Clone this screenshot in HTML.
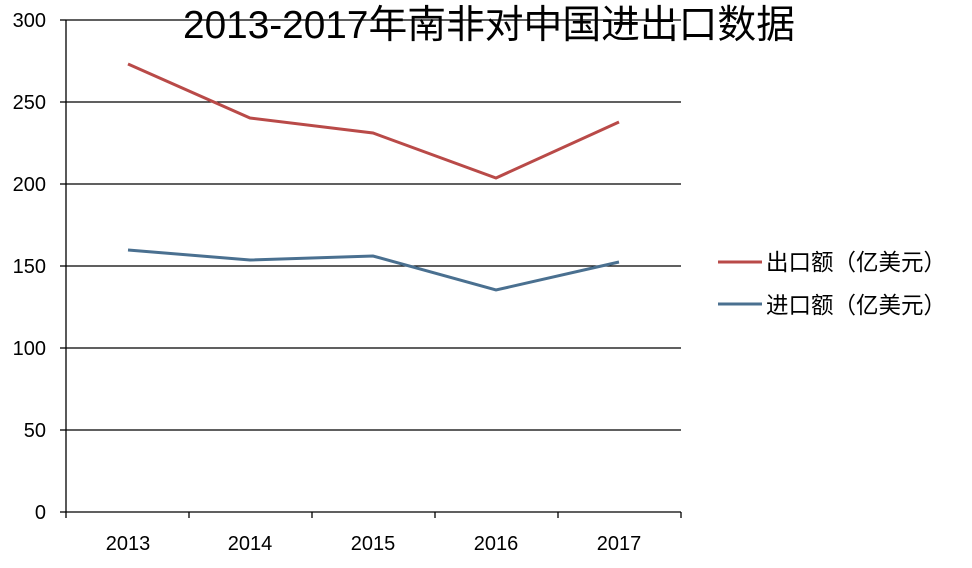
<!DOCTYPE html>
<html><head><meta charset="utf-8"><style>
body{margin:0;background:#fff;}
svg{display:block;}
text{font-family:"Liberation Sans","Noto Sans CJK SC",sans-serif;}
</style></head><body>
<svg width="972" height="568" viewBox="0 0 972 568">
<rect width="972" height="568" fill="#fff"/>
<g stroke="#000" stroke-width="1.3">
<line x1="66" y1="20" x2="681" y2="20"/>
<line x1="66" y1="102" x2="681" y2="102"/>
<line x1="66" y1="184" x2="681" y2="184"/>
<line x1="66" y1="266" x2="681" y2="266"/>
<line x1="66" y1="348" x2="681" y2="348"/>
<line x1="66" y1="430" x2="681" y2="430"/>
<line x1="66" y1="512" x2="681" y2="512"/>
<line x1="66" y1="20" x2="66" y2="518"/>
<line x1="60" y1="20" x2="66" y2="20"/><line x1="60" y1="102" x2="66" y2="102"/>
<line x1="60" y1="184" x2="66" y2="184"/><line x1="60" y1="266" x2="66" y2="266"/>
<line x1="60" y1="348" x2="66" y2="348"/><line x1="60" y1="430" x2="66" y2="430"/>
<line x1="60" y1="512" x2="66" y2="512"/>
<line x1="189" y1="512" x2="189" y2="518"/><line x1="312" y1="512" x2="312" y2="518"/>
<line x1="435" y1="512" x2="435" y2="518"/><line x1="558" y1="512" x2="558" y2="518"/>
<line x1="681" y1="512" x2="681" y2="518"/>
</g>
<g font-size="20" fill="#000" text-anchor="end">
<text x="46" y="27">300</text><text x="46" y="109">250</text><text x="46" y="191">200</text>
<text x="46" y="273">150</text><text x="46" y="355">100</text><text x="46" y="437">50</text>
<text x="46" y="519">0</text>
</g>
<g font-size="20" fill="#000" text-anchor="middle">
<text x="128" y="550">2013</text><text x="250" y="550">2014</text><text x="373" y="550">2015</text>
<text x="496" y="550">2016</text><text x="619" y="550">2017</text>
</g>
<polyline points="128,64 250,118 373,133 496,178 619,122" fill="none" stroke="#b94a48" stroke-width="3"/>
<polyline points="128,250 250,260 373,256 496,290 619,262" fill="none" stroke="#4a7090" stroke-width="3"/>
<text x="489" y="38" font-size="39" text-anchor="middle" fill="#000" textLength="612" lengthAdjust="spacingAndGlyphs">2013-2017年南非对中国进出口数据</text>
<line x1="718" y1="262" x2="762" y2="262" stroke="#b94a48" stroke-width="3"/>
<text x="766" y="270" font-size="23" fill="#000" textLength="180" lengthAdjust="spacingAndGlyphs">出口额（亿美元）</text>
<line x1="718" y1="304" x2="762" y2="304" stroke="#4a7090" stroke-width="3"/>
<text x="766" y="313" font-size="23" fill="#000" textLength="180" lengthAdjust="spacingAndGlyphs">进口额（亿美元）</text>
</svg>
</body></html>
